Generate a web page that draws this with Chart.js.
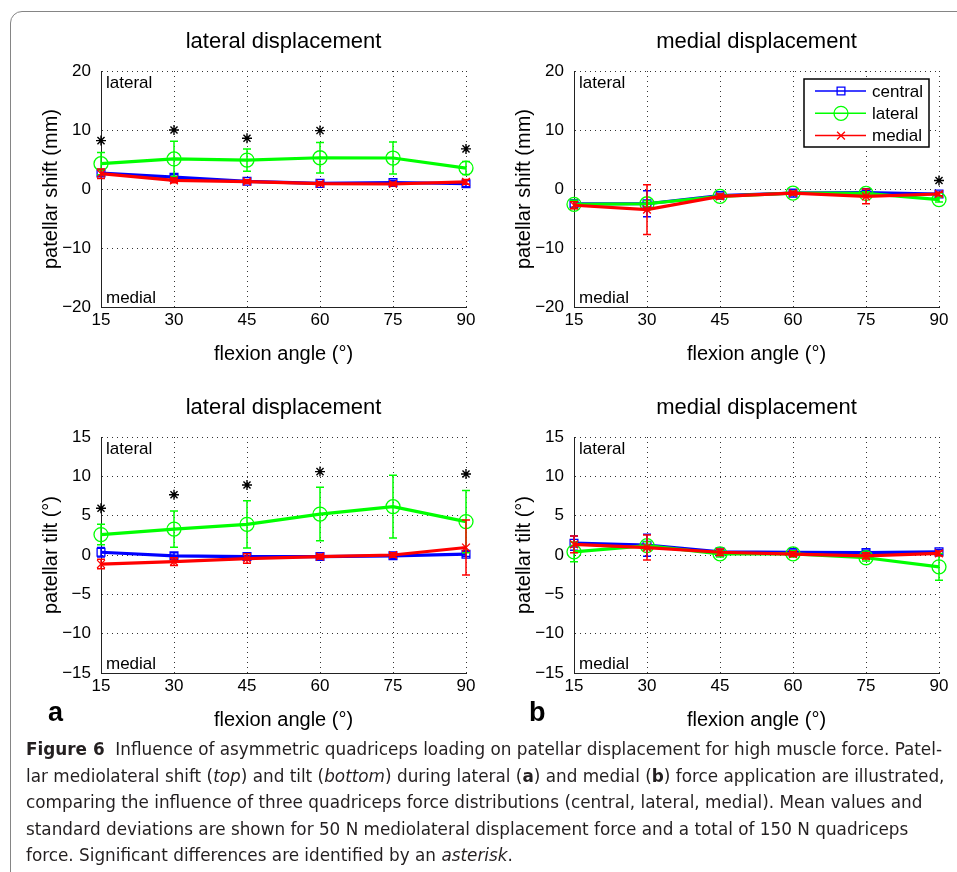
<!DOCTYPE html>
<html>
<head>
<meta charset="utf-8">
<title>Figure 6</title>
<script src="https://cdn.jsdelivr.net/npm/chart.js@4.4.1/dist/chart.umd.min.js"></script>
<style>
  body { margin: 0; width: 957px; height: 872px; overflow: hidden; position: relative; background: #fff;
         font-family: 'Liberation Sans', Arial, sans-serif; }
  .frame { position: absolute; left: 10px; top: 11px; width: 1000px; height: 900px;
           border: 1.5px solid #858585; border-radius: 12px; }
  canvas { position: absolute; }
  .letter { position: absolute; top: 699px; font-size: 27px; line-height: 1; font-weight: bold; color: #000; }
  .caption { position: absolute; left: 26px; top: 736px; font-family: 'Liberation Sans Narrow', 'DejaVu Sans Condensed', sans-serif;
             font-size: 18px; line-height: 26.5px; color: #231f20; white-space: nowrap; transform-origin: 0 0; }
</style>
</head>
<body>
<div class="frame"></div>

<canvas id="shiftLat" width="460" height="361" style="left:21px;top:11px"></canvas>
<canvas id="shiftMed" width="460" height="361" style="left:494px;top:11px"></canvas>
<canvas id="tiltLat" width="460" height="361" style="left:21px;top:377px"></canvas>
<canvas id="tiltMed" width="460" height="361" style="left:494px;top:377px"></canvas>

<div class="letter" style="left:48px">a</div>
<div class="letter" style="left:529px">b</div>

<div class="caption" id="caption">
  <div><span id="firstLine"><b>Figure 6</b>&nbsp;&nbsp;Influence of asymmetric quadriceps loading on patellar displacement for high muscle force. Patel-</span></div>
  <div>lar mediolateral shift (<i>top</i>) and tilt (<i>bottom</i>) during lateral (<b>a</b>) and medial (<b>b</b>) force application are illustrated,</div>
  <div>comparing the influence of three quadriceps force distributions (central, lateral, medial). Mean values and</div>
  <div>standard deviations are shown for 50 N mediolateral displacement force and a total of 150 N quadriceps</div>
  <div>force. Significant differences are identified by an <i>asterisk</i>.</div>
</div>

<script>
// x categories (flexion angle) and y tick labels
const angles = [15, 30, 45, 60, 75, 90];
const shiftTicks = [-20, -10, 0, 10, 20];
const tiltTicks = [-15, -10, -5, 0, 5, 10, 15];
const seriesNames = ['central', 'lateral', 'medial'];
const sideLabels = ['lateral', 'medial'];

// (a) top: lateral displacement, patellar shift (mm)
const shiftLatCentral = [2.7, 2.0, 1.3, 0.95, 1.1, 0.9];
const shiftLatLateral = [4.3, 5.1, 4.9, 5.3, 5.25, 3.55];
const shiftLatMedial = [2.6, 1.45, 1.25, 0.9, 0.85, 1.2];
const shiftLatCentralSd = [0.5, 0.5, 0.3, 0.3, 0.4, 0.5];
const shiftLatLateralSd = [1.9, 3.0, 1.9, 2.6, 2.7, 1.1];
const shiftLatMedialSd = [0.8, 0.4, 0.3, 0.3, 0.3, 0.4];
const shiftLatStars = [8.2, 10.0, 8.6, 9.9, null, 6.8];

// (b) top: medial displacement, patellar shift (mm)
const shiftMedCentral = [-2.5, -2.5, -1.1, -0.7, -0.6, -0.85];
const shiftMedLateral = [-2.6, -2.5, -1.25, -0.7, -0.75, -1.8];
const shiftMedMedial = [-2.75, -3.5, -1.25, -0.7, -1.25, -0.85];
const shiftMedCentralSd = [0.6, 2.2, 0.4, 0.3, 0.4, 0.3];
const shiftMedLateralSd = [0.7, 0.5, 0.4, 0.3, 0.3, 0.4];
const shiftMedMedialSd = [0.6, 4.2, 0.4, 0.3, 1.25, 0.3];
const shiftMedStars = [null, null, null, null, null, 1.45];

// (a) bottom: lateral displacement, patellar tilt (deg)
const tiltLatCentral = [0.35, -0.1, -0.2, -0.2, -0.1, 0.1];
const tiltLatLateral = [2.6, 3.3, 3.9, 5.2, 6.15, 4.25];
const tiltLatMedial = [-1.15, -0.85, -0.45, -0.2, 0.0, 0.95];
const tiltLatCentralSd = [0.6, 0.4, 0.4, 0.3, 0.3, 0.3];
const tiltLatLateralSd = [1.3, 2.3, 3.0, 3.4, 4.0, 3.95];
const tiltLatMedialSd = [0.6, 0.5, 0.6, 0.3, 0.3, 3.5];
const tiltLatStars = [5.95, 7.65, 8.9, 10.6, null, 10.3];

// (b) bottom: medial displacement, patellar tilt (deg)
const tiltMedCentral = [1.5, 1.25, 0.4, 0.35, 0.3, 0.4];
const tiltMedLateral = [0.4, 1.2, 0.15, 0.15, -0.35, -1.5];
const tiltMedMedial = [1.35, 0.95, 0.35, 0.1, -0.1, 0.2];
const tiltMedCentralSd = [0.9, 1.4, 0.3, 0.3, 0.3, 0.3];
const tiltMedLateralSd = [1.25, 0.5, 0.4, 0.4, 0.4, 1.7];
const tiltMedMedialSd = [1.05, 1.6, 0.4, 0.3, 0.4, 0.3];
const tiltMedStars = [null, null, null, null, null, null];

const FONT = "'Liberation Sans', Arial, sans-serif";
Chart.defaults.font.family = FONT;

const seriesStyle = [
  { color: '#0000ff', pointStyle: 'rect', radius: 5.5 },
  { color: '#00ff00', pointStyle: 'circle', radius: 7 },
  { color: '#ff0000', pointStyle: 'crossRot', radius: 5.5 },
];

// error bars, corner labels and the boxed legend
const figExtras = {
  id: 'figExtras',
  afterDatasetDraw(chart, args, opts) {
    const sd = opts.sds && opts.sds[args.index];
    if (!sd) return;
    const ds = chart.data.datasets[args.index];
    const xs = chart.scales.x, ys = chart.scales.y;
    const ctx = chart.ctx;
    ctx.save();
    ctx.strokeStyle = ds.borderColor;
    ctx.lineWidth = 1.5;
    ds.data.forEach((p, j) => {
      const x = xs.getPixelForValue(p.x);
      const yTop = ys.getPixelForValue(p.y + sd[j]);
      const yBot = ys.getPixelForValue(p.y - sd[j]);
      ctx.beginPath();
      ctx.moveTo(x, yTop); ctx.lineTo(x, yBot);
      ctx.moveTo(x - 4, yTop); ctx.lineTo(x + 4, yTop);
      ctx.moveTo(x - 4, yBot); ctx.lineTo(x + 4, yBot);
      ctx.stroke();
    });
    ctx.restore();
  },
  afterDraw(chart, args, opts) {
    const ctx = chart.ctx, a = chart.chartArea;
    ctx.save();
    ctx.fillStyle = '#000';
    ctx.font = '17px ' + FONT;
    ctx.textAlign = 'left';
    ctx.textBaseline = 'alphabetic';
    ctx.fillText(sideLabels[0], a.left + 5, a.top + 17);
    ctx.fillText(sideLabels[1], a.left + 5, a.bottom - 4);

    if (opts.legend) {
      const bw = 125, bh = 68;
      const bx = a.right - 10 - bw, by = a.top + 8;
      ctx.fillStyle = '#fff';
      ctx.fillRect(bx, by, bw, bh);
      ctx.strokeStyle = '#000';
      ctx.lineWidth = 1.5;
      ctx.strokeRect(bx, by, bw, bh);
      seriesNames.forEach((name, k) => {
        const ds = chart.data.datasets[k];
        const y = by + 12 + k * 22.3;
        ctx.strokeStyle = ds.borderColor;
        ctx.lineWidth = 1.5;
        ctx.beginPath();
        ctx.moveTo(bx + 11, y); ctx.lineTo(bx + 62, y);
        ctx.stroke();
        ctx.lineWidth = 1.3;
        ctx.fillStyle = 'rgba(0,0,0,0)';
        Chart.helpers.drawPoint(ctx, { pointStyle: ds.pointStyle, radius: ds.pointRadius, borderWidth: 1.3, rotation: 0 }, bx + 37, y);
        ctx.fillStyle = '#000';
        ctx.textBaseline = 'middle';
        ctx.fillText(name, bx + 68, y + 1);
      });
    }
    ctx.restore();
  }
};

function minusSign(v) {
  return String(v).replace('-', '\u2212');
}

function makePanel(id, title, yLabel, yTicks, means, sds, stars, showLegend) {
  const datasets = means.map((m, k) => ({
    label: seriesNames[k],
    data: angles.map((x, j) => ({ x, y: m[j] })),
    borderColor: seriesStyle[k].color,
    backgroundColor: 'rgba(0,0,0,0)',
    borderWidth: 3.2,
    pointStyle: seriesStyle[k].pointStyle,
    pointRadius: seriesStyle[k].radius,
    pointBorderColor: seriesStyle[k].color,
    pointBackgroundColor: 'rgba(0,0,0,0)',
    pointBorderWidth: 1.3,
    tension: 0,
    clip: false,
    order: 3 - k,
  }));
  datasets.push({
    label: 'significant',
    data: angles.map((x, j) => ({ x, y: stars[j] })),
    showLine: false,
    pointStyle: 'star',
    pointRadius: 5,
    pointBorderColor: '#000',
    pointBorderWidth: 1.4,
    clip: false,
    order: 0,
  });

  return new Chart(document.getElementById(id), {
    type: 'line',
    data: { datasets },
    options: {
      responsive: false,
      animation: false,
      layout: { padding: { left: 0, right: 15, top: 0, bottom: 0 } },
      plugins: {
        legend: { display: false },
        tooltip: { enabled: false },
        title: {
          display: true, text: title, fullSize: false, color: '#000',
          font: { size: 22, weight: 'normal' },
          padding: { top: 17.8, bottom: 15.8 },
        },
        figExtras: { sds, legend: showLegend },
      },
      scales: {
        x: {
          type: 'linear', min: angles[0], max: angles[angles.length - 1],
          afterBuildTicks: s => { s.ticks = angles.map(v => ({ value: v })); },
          afterFit: s => { s.height = 65; },
          ticks: { color: '#000', font: { size: 17 }, padding: 3, callback: minusSign },
          grid: { color: '#333', lineWidth: 1, drawTicks: false },
          border: { color: '#222', width: 1, dash: [1, 4] },
          title: { display: true, text: 'flexion angle (°)', color: '#000', font: { size: 20 }, padding: { top: 0, bottom: 6 } },
        },
        y: {
          type: 'linear', min: yTicks[0], max: yTicks[yTicks.length - 1],
          afterBuildTicks: s => { s.ticks = yTicks.map(v => ({ value: v })); },
          afterFit: s => { s.width = 80; },
          ticks: { color: '#000', font: { size: 17 }, padding: 10, callback: minusSign },
          grid: { color: '#333', lineWidth: 1, drawTicks: false },
          border: { color: '#222', width: 1, dash: [1, 4] },
          title: { display: true, text: yLabel, color: '#000', font: { size: 20 }, padding: { top: 18, bottom: 0 } },
        },
      },
    },
    plugins: [figExtras],
  });
}

makePanel('shiftLat', 'lateral displacement', 'patellar shift (mm)', shiftTicks,
  [shiftLatCentral, shiftLatLateral, shiftLatMedial],
  [shiftLatCentralSd, shiftLatLateralSd, shiftLatMedialSd], shiftLatStars, false);
makePanel('shiftMed', 'medial displacement', 'patellar shift (mm)', shiftTicks,
  [shiftMedCentral, shiftMedLateral, shiftMedMedial],
  [shiftMedCentralSd, shiftMedLateralSd, shiftMedMedialSd], shiftMedStars, true);
makePanel('tiltLat', 'lateral displacement', 'patellar tilt (°)', tiltTicks,
  [tiltLatCentral, tiltLatLateral, tiltLatMedial],
  [tiltLatCentralSd, tiltLatLateralSd, tiltLatMedialSd], tiltLatStars, false);
makePanel('tiltMed', 'medial displacement', 'patellar tilt (°)', tiltTicks,
  [tiltMedCentral, tiltMedLateral, tiltMedMedial],
  [tiltMedCentralSd, tiltMedLateralSd, tiltMedMedialSd], tiltMedStars, false);

// squeeze the caption so the first line spans the same width as in the print
const firstLine = document.getElementById('firstLine');
const w = firstLine.getBoundingClientRect().width;
document.getElementById('caption').style.transform = 'scaleX(' + (916 / w) + ')';
</script>
</body>
</html>
